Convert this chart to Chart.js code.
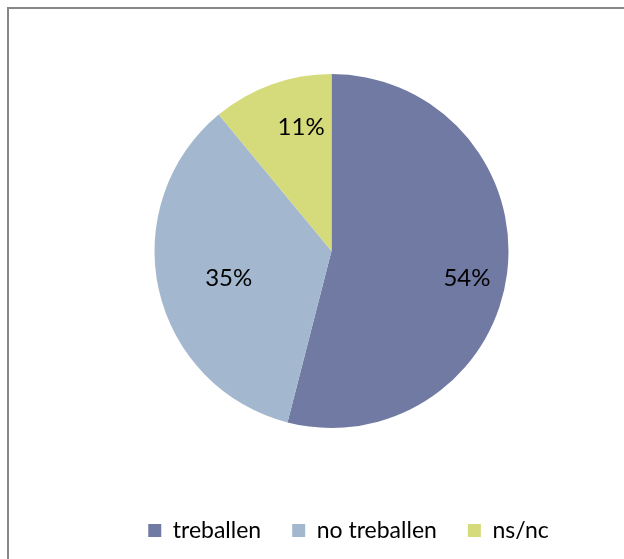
<!DOCTYPE html>
<html>
<head>
<meta charset="utf-8">
<script src="https://cdn.jsdelivr.net/npm/chart.js@4.4.0/dist/chart.umd.min.js"></script>
<style>
    html, body { margin: 0; padding: 0; background: #fff; overflow: hidden; }
    #wrap { position: relative; width: 624px; height: 559px; }
    #frame {
        position: absolute; left: 7px; top: 7px; width: 700px; height: 700px;
        border: 2px solid #878787; box-sizing: border-box;
    }
    #chart { position: absolute; left: 0; top: 0; }
</style>
</head>
<body>
<div id="wrap">
    <div id="frame"></div>
    <canvas id="chart" width="624" height="559"></canvas>
</div>
<script>
// chart data
const categories = ['treballen', 'no treballen', 'ns/nc'];
const shares = [54, 35, 11];
const sliceColors = ['#707aa2', '#a3b8cf', '#d5da7b'];

// per-slice label placement (fraction of radius, angle tweak in degrees)
const labelRadius = [0.78, 0.60, 0.72];
const labelTurn = [4, -2, 6];

const pieLabels = {
    id: 'pieLabels',
    afterDatasetsDraw(chart) {
        const ctx = chart.ctx;
        const meta = chart.getDatasetMeta(0);
        ctx.save();
        ctx.font = '24px Lato';
        ctx.fillStyle = '#000';
        ctx.textAlign = 'center';
        ctx.textBaseline = 'middle';
        meta.data.forEach((arc, i) => {
            const mid = (arc.startAngle + arc.endAngle) / 2 + labelTurn[i] * Math.PI / 180;
            const r = arc.outerRadius * labelRadius[i];
            ctx.fillText(shares[i] + '%', arc.x + Math.cos(mid) * r, arc.y + Math.sin(mid) * r);
        });
        ctx.restore();
    }
};

// move the legend to sit off-centre near the bottom, like the original
const legendShift = {
    id: 'legendShift',
    afterLayout(chart) {
        const lg = chart.legend;
        lg.left += 17; lg.right += 17;
        lg.top += 60; lg.bottom += 60;
    }
};

new Chart(document.getElementById('chart'), {
    type: 'pie',
    data: {
        labels: categories,
        datasets: [{
            data: shares,
            backgroundColor: sliceColors,
            borderWidth: 0
        }]
    },
    options: {
        responsive: false,
        animation: false,
        layout: { padding: { top: 74, left: 39, right: 0, bottom: 67 } },
        plugins: {
            tooltip: { enabled: false },
            legend: {
                position: 'bottom',
                labels: {
                    boxWidth: 13,
                    boxHeight: 13,
                    padding: 31,
                    color: '#000',
                    font: { family: 'Lato', size: 23 }
                }
            }
        }
    },
    plugins: [pieLabels, legendShift]
});
</script>
</body>
</html>
